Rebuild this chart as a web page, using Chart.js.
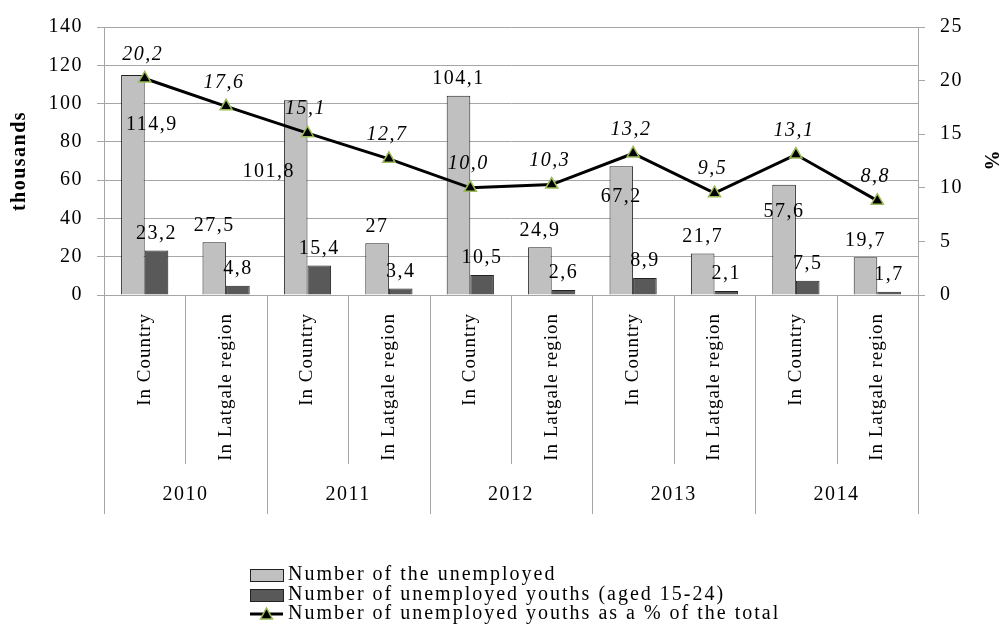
<!DOCTYPE html>
<html>
<head>
<meta charset="utf-8">
<script src="https://cdn.jsdelivr.net/npm/chart.js@4/dist/chart.umd.min.js"></script>
<style>
  html, body { margin: 0; padding: 0; background: #fff; }
  canvas { display: block; }
</style>
</head>
<body>
<canvas id="chart" width="1000" height="626"></canvas>
<script>
// Chart data
const categories = ['In Country', 'In Latgale region', 'In Country', 'In Latgale region', 'In Country',
                    'In Latgale region', 'In Country', 'In Latgale region', 'In Country', 'In Latgale region'];
const years = ['2010', '2011', '2012', '2013', '2014'];
const unemployed = [114.9, 27.5, 101.8, 27, 104.1, 24.9, 67.2, 21.7, 57.6, 19.7];
const youths = [23.2, 4.8, 15.4, 3.4, 10.5, 2.6, 8.9, 2.1, 7.5, 1.7];
const youthShare = [20.2, 17.6, 15.1, 12.7, 10.0, 10.3, 13.2, 9.5, 13.1, 8.8];
const leftTicks = [0, 20, 40, 60, 80, 100, 120, 140];
const rightTicks = [0, 5, 10, 15, 20, 25];

const FONT = '"Liberation Serif", "Times New Roman", serif';
const GRID = '#a6a6a6';
const comma = v => String(v).replace('.', ',');

// the source text is a bit wider than plain Times, so space letters out a little
const spacing = {
  id: 'spacing',
  beforeLayout(chart) { chart.ctx.letterSpacing = '1.5px'; },
  beforeDraw(chart) { chart.ctx.letterSpacing = '1.5px'; }
};

// data labels + year grouping + stacked legend
const decorations = {
  id: 'decorations',
  afterDatasetsDraw(chart, args, opts) {
    const ctx = chart.ctx;
    ctx.save();
    ctx.fillStyle = '#000';
    ctx.textAlign = 'center';
    ctx.textBaseline = 'middle';
    ctx.font = '20px ' + FONT;
    // bar labels
    [0, 1].forEach(di => {
      const meta = chart.getDatasetMeta(di);
      meta.data.forEach((bar, i) => {
        const shift = (di === 0 && opts.lightShift[i]) || [0, -17];
        ctx.fillText(comma(chart.data.datasets[di].data[i]), bar.x + shift[0], bar.y + shift[1]);
      });
    });
    // line labels
    ctx.font = 'italic 20px ' + FONT;
    chart.getDatasetMeta(2).data.forEach((pt, i) => {
      const v = chart.data.datasets[2].data[i];
      ctx.fillText(v.toFixed(1).replace('.', ','), pt.x - 2, pt.y - 24);
    });
    ctx.restore();
    // x tick labels are drawn next (z: 1), a bit tighter
    ctx.letterSpacing = '1px';
  },
  afterDraw(chart) {
    const ctx = chart.ctx;
    const area = chart.chartArea;
    const n = categories.length;
    const w = (area.right - area.left) / n;
    ctx.save();
    ctx.strokeStyle = GRID;
    ctx.lineWidth = 1;
    for (let k = 0; k <= n; k++) {
      const x = Math.round(area.left + k * w) + 0.5;
      ctx.beginPath();
      ctx.moveTo(x, area.bottom);
      ctx.lineTo(x, k % 2 === 0 ? 514 : 464);
      ctx.stroke();
    }
    ctx.letterSpacing = '1.5px';
    ctx.fillStyle = '#000';
    ctx.font = '20px ' + FONT;
    ctx.textAlign = 'center';
    ctx.textBaseline = 'middle';
    years.forEach((y, i) => {
      ctx.fillText(y, area.left + (2 * i + 1) * w, 495);
    });

    // legend
    const ds = chart.data.datasets;
    const bx = 250, bw = 33, tx = 288;
    const rows = [575, 595, 614];
    ctx.letterSpacing = '2px';
    ctx.textAlign = 'left';
    ds.forEach((d, i) => {
      const cy = rows[i];
      if (d.type === 'line') {
        ctx.strokeStyle = '#000';
        ctx.lineWidth = 3;
        ctx.beginPath();
        ctx.moveTo(bx, cy);
        ctx.lineTo(bx + bw, cy);
        ctx.stroke();
        ctx.beginPath();
        ctx.moveTo(bx + bw / 2 - 6, cy + 5);
        ctx.lineTo(bx + bw / 2 + 6, cy + 5);
        ctx.lineTo(bx + bw / 2, cy - 6);
        ctx.closePath();
        ctx.fillStyle = '#000';
        ctx.fill();
        ctx.strokeStyle = d.pointBorderColor;
        ctx.lineWidth = 1.5;
        ctx.stroke();
      } else {
        ctx.fillStyle = d.backgroundColor;
        ctx.fillRect(bx, cy - 6, bw, 12);
        ctx.strokeStyle = '#222';
        ctx.lineWidth = 1;
        ctx.strokeRect(bx + 0.5, cy - 5.5, bw, 12);
      }
      ctx.fillStyle = '#000';
      ctx.fillText(d.label, tx, cy);
    });
    ctx.restore();
  }
};

new Chart(document.getElementById('chart').getContext('2d'), {
  type: 'bar',
  data: {
    labels: categories,
    datasets: [
      {
        label: 'Number of the unemployed',
        data: unemployed,
        backgroundColor: '#c0c0c0',
        borderColor: '#222',
        borderWidth: 1,
        categoryPercentage: 0.58,
        barPercentage: 1.0,
        yAxisID: 'y',
        order: 2
      },
      {
        label: 'Number of unemployed youths (aged 15-24)',
        data: youths,
        backgroundColor: '#595959',
        borderColor: '#222',
        borderWidth: 1,
        categoryPercentage: 0.58,
        barPercentage: 1.0,
        yAxisID: 'y',
        order: 2
      },
      {
        type: 'line',
        label: 'Number of unemployed youths as a % of the total',
        data: youthShare,
        borderColor: '#000',
        borderWidth: 3,
        pointStyle: 'triangle',
        pointRadius: 7,
        pointBackgroundColor: '#000',
        pointBorderColor: '#9bbb59',
        pointBorderWidth: 1.5,
        tension: 0,
        yAxisID: 'y1',
        order: 0
      }
    ]
  },
  options: {
    responsive: false,
    animation: false,
    devicePixelRatio: 1,
    layout: { padding: { top: 23, left: 0, right: 0, bottom: 0 } },
    plugins: {
      legend: { display: false },
      tooltip: { enabled: false },
      decorations: { lightShift: { 0: [19, 50], 2: [-27, 72], 6: [0, 30], 8: [0, 27] } }
    },
    scales: {
      x: {
        grid: { display: false, drawTicks: false },
        border: { display: false },
        ticks: {
          z: 1,
          minRotation: 90, maxRotation: 90, autoSkip: false, padding: 18,
          color: '#000', font: { family: FONT, size: 19 }
        },
        afterFit: s => { s.height = 331; }
      },
      y: {
        position: 'left',
        min: 0, max: 140,
        afterBuildTicks: s => { s.ticks = leftTicks.map(v => ({ value: v })); },
        grid: { color: GRID, tickLength: 7 },
        border: { color: GRID },
        ticks: { padding: 14, color: '#000', font: { family: FONT, size: 20 } },
        title: {
          display: true, text: 'thousands', color: '#000',
          font: { family: FONT, size: 20, weight: 'bold', lineHeight: 1.2 },
          padding: { top: 8, bottom: 0 }
        },
        afterFit: s => { s.width = 104; }
      },
      y1: {
        position: 'right',
        min: 0, max: 25,
        afterBuildTicks: s => { s.ticks = rightTicks.map(v => ({ value: v })); },
        grid: { drawOnChartArea: false, color: GRID, tickLength: 7 },
        border: { color: GRID },
        ticks: { padding: 15, color: '#000', font: { family: FONT, size: 20 } },
        title: {
          display: true, text: '%', color: '#000',
          font: { family: FONT, size: 20, weight: 'bold', lineHeight: 1 },
          padding: { top: 0, bottom: 0 }
        },
        afterFit: s => { s.width = 82; }
      }
    }
  },
  plugins: [spacing, decorations]
});
</script>
</body>
</html>
